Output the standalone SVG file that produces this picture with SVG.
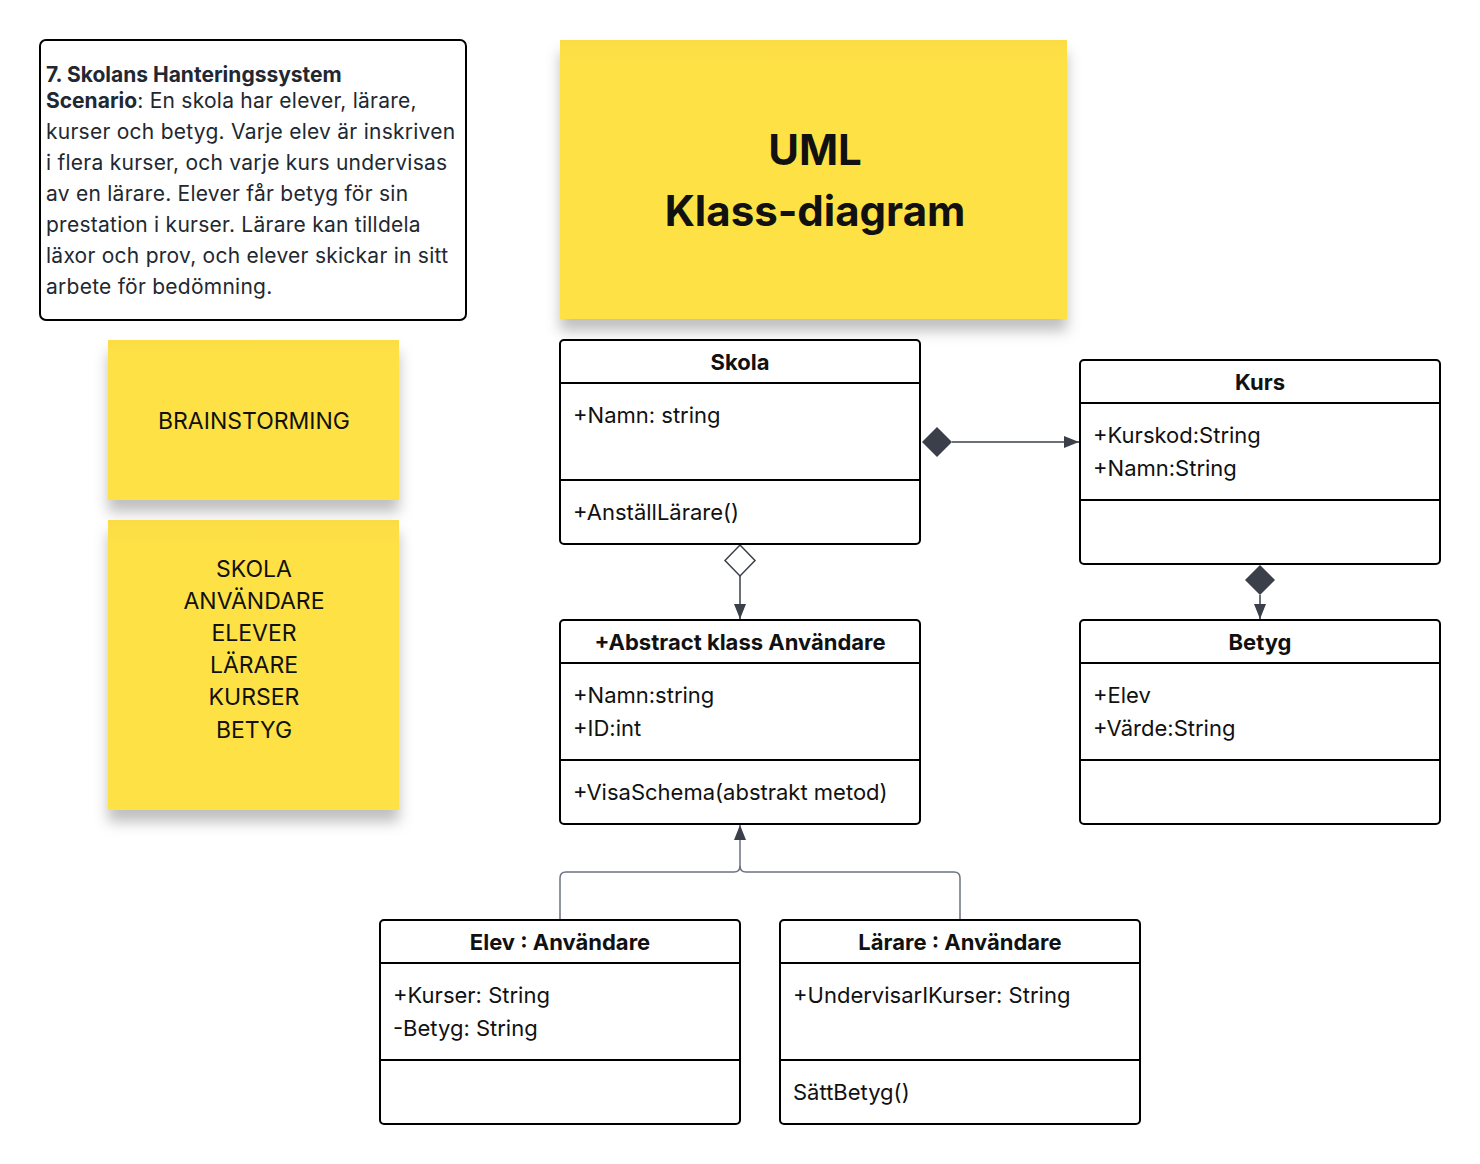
<svg xmlns="http://www.w3.org/2000/svg" width="1480" height="1164" viewBox="0 0 1480 1164">
<defs>
<filter id="sh" x="-10%" y="-10%" width="130%" height="140%">
<feDropShadow dx="0" dy="12" stdDeviation="7" flood-color="#000" flood-opacity="0.25"/>
</filter>
<marker id="arr" markerWidth="16" markerHeight="12" refX="15" refY="6" orient="auto" markerUnits="userSpaceOnUse">
<path d="M0,0 L15,6 L0,12 Z" fill="#3a3f4a"/>
</marker>
<linearGradient id="yg" x1="0" y1="0" x2="0" y2="1">
<stop offset="0" stop-color="#FBDC45"/>
<stop offset="0.1" stop-color="#FEE244"/>
<stop offset="1" stop-color="#FEE244"/>
</linearGradient>
</defs>
<style>
text{font-family:Inter,"Noto Sans","Liberation Sans",sans-serif;fill:#111;}
.t{font-size:21px;fill:#222831;letter-spacing:0.25px;}
.tb{font-size:21px;font-weight:bold;fill:#222831;}
.box{fill:#fff;stroke:#000;stroke-width:2;}
.div{stroke:#000;stroke-width:2;}
.h{font-size:22px;font-weight:bold;text-anchor:middle;}
.a{font-size:22px;}
.st{font-size:23px;text-anchor:middle;}
.sticky{fill:url(#yg);}
.con{stroke:#3a3f4a;stroke-width:1.5;fill:none;}
.gen{stroke:#6b7280;stroke-width:1.5;fill:none;}
</style>
<rect width="1480" height="1164" fill="#fff"/>

<g id="scenario">
<rect x="40" y="40" width="426" height="280" rx="6" class="box"/>
<text class="tb" x="46" y="82">7. Skolans Hanteringssystem</text>
<text class="t" x="46" y="108"><tspan font-weight="bold" letter-spacing="0">Scenario</tspan>: En skola har elever, lärare,</text>
<text class="t" x="46" y="139">kurser och betyg. Varje elev är inskriven</text>
<text class="t" x="46" y="170">i flera kurser, och varje kurs undervisas</text>
<text class="t" x="46" y="201">av en lärare. Elever får betyg för sin</text>
<text class="t" x="46" y="232">prestation i kurser. Lärare kan tilldela</text>
<text class="t" x="46" y="263">läxor och prov, och elever skickar in sitt</text>
<text class="t" x="46" y="294">arbete för bedömning.</text>
</g>

<g id="title-note">
<rect x="560" y="40" width="507" height="279" class="sticky" filter="url(#sh)"/>
<text x="815" y="165" font-size="42" font-weight="bold" text-anchor="middle">UML</text>
<text x="815" y="226" font-size="42" font-weight="bold" text-anchor="middle">Klass-diagram</text>
</g>

<g id="brainstorming-note">
<rect x="108" y="340" width="291" height="160" class="sticky" filter="url(#sh)"/>
<text class="st" x="254" y="429">BRAINSTORMING</text>
</g>

<g id="words-note">
<rect x="108" y="520" width="291" height="290" class="sticky" filter="url(#sh)"/>
<text class="st" x="254" y="577">SKOLA</text>
<text class="st" x="254" y="609">ANVÄNDARE</text>
<text class="st" x="254" y="641">ELEVER</text>
<text class="st" x="254" y="673">LÄRARE</text>
<text class="st" x="254" y="705">KURSER</text>
<text class="st" x="254" y="738">BETYG</text>
</g>

<g id="connectors">
<path class="con" d="M952,442 L1079,442" marker-end="url(#arr)"/>
<path d="M922,442 L937,427 L952,442 L937,457 Z" fill="#3a3f4a"/>
<path class="con" d="M740,576 L740,619" marker-end="url(#arr)"/>
<path d="M740,545 L755,560.5 L740,576 L725,560.5 Z" fill="#fff" stroke="#3a3f4a" stroke-width="1.5"/>
<path class="con" d="M1260,595 L1260,619" marker-end="url(#arr)"/>
<path d="M1260,565 L1275,580 L1260,595 L1245,580 Z" fill="#3a3f4a"/>
<path class="gen" d="M560,920 L560,878 Q560,872 566,872 L734,872 Q740,872 740,866 L740,825" marker-end="url(#arr)"/>
<path class="gen" d="M960,920 L960,878 Q960,872 954,872 L746,872 Q740,872 740,866"/>
</g>

<g id="skola">
<rect x="560" y="340" width="360" height="204" rx="4" class="box"/>
<line x1="560" y1="383" x2="920" y2="383" class="div"/>
<line x1="560" y1="480" x2="920" y2="480" class="div"/>
<text class="h" x="740" y="370">Skola</text>
<text class="a" x="573" y="423">+Namn: string</text>
<text class="a" x="573" y="520">+AnställLärare()</text>
</g>

<g id="kurs">
<rect x="1080" y="360" width="360" height="204" rx="4" class="box"/>
<line x1="1080" y1="403" x2="1440" y2="403" class="div"/>
<line x1="1080" y1="500" x2="1440" y2="500" class="div"/>
<text class="h" x="1260" y="390">Kurs</text>
<text class="a" x="1093" y="443">+Kurskod:String</text>
<text class="a" x="1093" y="476">+Namn:String</text>
</g>

<g id="anvandare">
<rect x="560" y="620" width="360" height="204" rx="4" class="box"/>
<line x1="560" y1="663" x2="920" y2="663" class="div"/>
<line x1="560" y1="760" x2="920" y2="760" class="div"/>
<text class="h" x="740" y="650">+Abstract klass Användare</text>
<text class="a" x="573" y="703">+Namn:string</text>
<text class="a" x="573" y="736">+ID:int</text>
<text class="a" x="573" y="800">+VisaSchema(abstrakt metod)</text>
</g>

<g id="betyg">
<rect x="1080" y="620" width="360" height="204" rx="4" class="box"/>
<line x1="1080" y1="663" x2="1440" y2="663" class="div"/>
<line x1="1080" y1="760" x2="1440" y2="760" class="div"/>
<text class="h" x="1260" y="650">Betyg</text>
<text class="a" x="1093" y="703">+Elev</text>
<text class="a" x="1093" y="736">+Värde:String</text>
</g>

<g id="elev">
<rect x="380" y="920" width="360" height="204" rx="4" class="box"/>
<line x1="380" y1="963" x2="740" y2="963" class="div"/>
<line x1="380" y1="1060" x2="740" y2="1060" class="div"/>
<text class="h" x="560" y="950">Elev : Användare</text>
<text class="a" x="393" y="1003">+Kurser: String</text>
<text class="a" x="393" y="1036">-Betyg: String</text>
</g>

<g id="larare">
<rect x="780" y="920" width="360" height="204" rx="4" class="box"/>
<line x1="780" y1="963" x2="1140" y2="963" class="div"/>
<line x1="780" y1="1060" x2="1140" y2="1060" class="div"/>
<text class="h" x="960" y="950">Lärare : Användare</text>
<text class="a" x="793" y="1003">+UndervisarIKurser: String</text>
<text class="a" x="793" y="1100">SättBetyg()</text>
</g>
</svg>
